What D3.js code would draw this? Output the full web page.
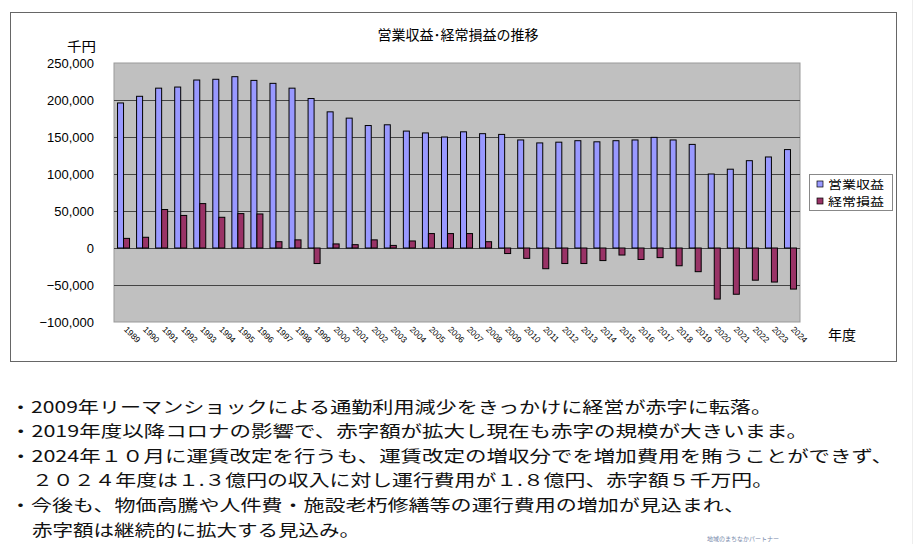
<!DOCTYPE html>
<html>
<head>
<meta charset="utf-8">
<script src="https://cdn.jsdelivr.net/npm/d3@7"></script>
<style>
body { margin:0; background:#fff; }
text { font-family: "Noto Sans CJK JP", "Liberation Sans", sans-serif; }
</style>
</head>
<body>
<div id="chart"></div>
<script>
// data (千円)
var years = ["1989","1990","1991","1992","1993","1994","1995","1996","1997","1998",
	"1999","2000","2001","2002","2003","2004","2005","2006","2007","2008",
	"2009","2010","2011","2012","2013","2014","2015","2016","2017","2018",
	"2019","2020","2021","2022","2023","2024"];
var revenue = [196000,205000,216000,217500,227000,228000,231500,226500,222500,216000,
	202000,184000,175500,165500,166500,158000,155500,150000,157000,154500,
	153500,146000,142000,143000,145000,143500,145000,146000,149500,146000,
	140000,100000,106500,118000,123000,133000];
var ordinary = [13000,14500,52000,44000,60000,41500,46500,46000,8500,11000,
	-21000,5500,4500,11000,3500,9500,19500,19500,19500,8500,
	-7500,-14000,-28000,-21000,-21000,-17000,-9500,-15500,-13000,-24000,
	-32000,-69000,-62500,-43500,-46000,-55500];
var seriesNames = ["営業収益","経常損益"];
var seriesColors = ["#9999ff","#993366"];
var yTicks = [-100000,-50000,0,50000,100000,150000,200000,250000];
var notes = [
	"・2009年リーマンショックによる通勤利用減少をきっかけに経営が赤字に転落。",
	"・2019年度以降コロナの影響で、赤字額が拡大し現在も赤字の規模が大きいまま。",
	"・2024年１０月に運賃改定を行うも、運賃改定の増収分でを増加費用を賄うことができず、",
	"２０２４年度は１.３億円の収入に対し運行費用が１.８億円、赤字額５千万円。",
	"・今後も、物価高騰や人件費・施設老朽修繕等の運行費用の増加が見込まれ、",
	"赤字額は継続的に拡大する見込み。"
];

var W = 919, H = 544;
var plot = {left:114, top:63, right:800, bottom:322};

var svg = d3.select("#chart").append("svg")
	.attr("width", W)
	.attr("height", H);

// outer chart frame
svg.append("rect")
	.attr("x", 10.5).attr("y", 12.5)
	.attr("width", 886).attr("height", 349)
	.attr("fill", "#fff")
	.attr("stroke", "#666");
svg.append("line")
	.attr("x1", 912.5).attr("x2", 912.5).attr("y1", 0).attr("y2", 544)
	.attr("stroke", "#eeeeee");

var x0 = d3.scaleBand().domain(years).range([plot.left, plot.right]).paddingInner(0.37).paddingOuter(0.185);
var x1 = d3.scaleBand().domain([0,1]).range([0, x0.bandwidth()]);
var y = d3.scaleLinear().domain([-100000, 250000]).range([plot.bottom, plot.top]);

// plot area
svg.append("rect")
	.attr("x", plot.left).attr("y", plot.top)
	.attr("width", plot.right - plot.left).attr("height", plot.bottom - plot.top)
	.attr("fill", "#c0c0c0")
	.attr("stroke", "#999");

svg.append("g").selectAll("line")
	.data(yTicks.filter(function(d){ return d > -100000 && d < 250000; }))
	.enter().append("line")
	.attr("x1", plot.left).attr("x2", plot.right)
	.attr("y1", function(d){ return Math.round(y(d)) + 0.5; })
	.attr("y2", function(d){ return Math.round(y(d)) + 0.5; })
	.attr("stroke", "#444");

// y axis labels
var yAxis = svg.append("g")
	.attr("transform", "translate(" + (plot.left - 17) + ",0)")
	.call(d3.axisLeft(y).tickValues(yTicks).tickFormat(d3.format(",")).tickSize(0));
yAxis.select(".domain").remove();
yAxis.selectAll("text")
	.style("font-family", "'Liberation Sans', Arial, sans-serif")
	.style("font-size", "13px")
	.attr("fill", "#000");

// bars
var groups = svg.append("g").selectAll("g")
	.data(years)
	.enter().append("g")
	.attr("transform", function(d){ return "translate(" + x0(d) + ",0)"; });

groups.selectAll("rect")
	.data(function(d, i){ return [revenue[i], ordinary[i]]; })
	.enter().append("rect")
	.attr("x", function(d, j){ return x1(j); })
	.attr("width", x1.bandwidth())
	.attr("y", function(d){ return y(Math.max(0, d)); })
	.attr("height", function(d){ return Math.abs(y(d) - y(0)); })
	.attr("fill", function(d, j){ return seriesColors[j]; })
	.attr("stroke", "#000")
	.attr("stroke-width", 1);

// x labels, rotated
svg.append("g").selectAll("text")
	.data(years)
	.enter().append("text")
	.attr("transform", function(d){ return "translate(" + (x0(d) + x0.bandwidth()/2) + "," + (plot.bottom + 8) + ") rotate(45)"; })
	.style("font-family", "'Liberation Sans', Arial, sans-serif")
	.style("font-size", "8.5px")
	.text(function(d){ return d; });

// titles
svg.append("text")
	.attr("x", 458).attr("y", 40)
	.attr("text-anchor", "middle")
	.style("font-size", "14px")
	.text("営業収益･経常損益の推移");
svg.append("text")
	.attr("x", 96).attr("y", 51)
	.attr("text-anchor", "end")
	.style("font-size", "13px")
	.attr("textLength", 29)
	.attr("lengthAdjust", "spacingAndGlyphs")
	.text("千円");
svg.append("text")
	.attr("x", 828).attr("y", 340)
	.style("font-size", "14px")
	.text("年度");

// legend
var legend = svg.append("g").attr("transform", "translate(809,174)");
legend.append("rect")
	.attr("x", 0.5).attr("y", 0.5).attr("width", 83).attr("height", 36)
	.attr("fill", "#fff").attr("stroke", "#888");
var li = legend.selectAll("g.item")
	.data(seriesNames)
	.enter().append("g")
	.attr("transform", function(d, i){ return "translate(0," + (10 + i*17) + ")"; });
li.append("rect")
	.attr("x", 8).attr("y", -3).attr("width", 6).attr("height", 6)
	.attr("fill", function(d, i){ return seriesColors[i]; })
	.attr("stroke", "#000").attr("stroke-width", 0.7);
li.append("text")
	.attr("x", 19).attr("y", 4.5)
	.style("font-size", "11.5px")
	.attr("textLength", 56)
	.attr("lengthAdjust", "spacingAndGlyphs")
	.text(function(d){ return d; });

// notes under chart
var noteX = [10, 10, 10, 32, 10, 32];
var noteEnd = [772, 808, 893, 773, 745, 360];
var noteY = [413, 437, 462, 486, 511, 536];
svg.append("g").selectAll("text")
	.data(notes)
	.enter().append("text")
	.attr("x", function(d, i){ return noteX[i]; })
	.attr("y", function(d, i){ return noteY[i]; })
	.attr("textLength", function(d, i){ return noteEnd[i] - noteX[i]; })
	.attr("lengthAdjust", "spacingAndGlyphs")
	.style("font-size", "16px")
	.attr("fill", "#111")
	.text(function(d){ return d; });

svg.append("text")
	.attr("x", 707).attr("y", 541)
	.style("font-size", "6px")
	.attr("fill", "#7788aa")
	.text("地域のまちなかパートナー");
</script>
</body>
</html>
